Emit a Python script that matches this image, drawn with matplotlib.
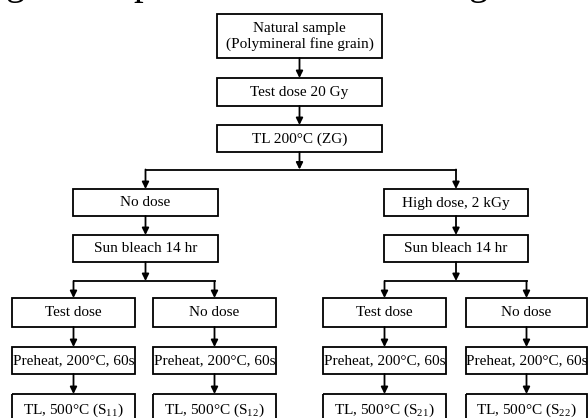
import matplotlib.pyplot as plt
from matplotlib.patches import Rectangle

plt.rcParams['font.family'] = ['Liberation Serif', 'DejaVu Serif']
plt.rcParams['mathtext.fontset'] = 'custom'
plt.rcParams['mathtext.rm'] = 'Liberation Serif'

# box texts of the flow chart
top_labels = ['Natural sample\n(Polymineral fine grain)', 'Test dose 20 Gy', 'TL 200°C (ZG)']
branch_labels = ['No dose', 'High dose, 2 kGy']
bleach_label = 'Sun bleach 14 hr'
leaf_labels = ['Test dose', 'No dose', 'Test dose', 'No dose']
preheat_label = 'Preheat, 200°C, 60s'
tl_labels = [r'TL, 500°C (S$_{11}$)', r'TL, 500°C (S$_{12}$)',
             r'TL, 500°C (S$_{21}$)', r'TL, 500°C (S$_{22}$)']

# layout in pixel coordinates (x0, x1) and (y0, y1)
top_x = (217, 382)
top_y = [(14, 58), (78, 106), (125, 152)]
branch_x = [(73, 218), (384, 528)]
branch_y = (189, 216)
bleach_y = (235, 262)
split_y = 281
leaf_x = [(12, 135), (153, 276), (323, 446), (466, 587)]
leaf_y = (298, 327)
pre_y = (347, 374)
tl_y = (394, 425)
main_split_y = 169.5

fig = plt.figure(figsize=(5.88, 4.18), dpi=100)
ax = fig.add_axes([0, 0, 1, 1])
ax.set_xlim(0, 588)
ax.set_ylim(418, 0)
ax.axis('off')

lw = 1.3
fs = 11


def box(x, y, text):
    ax.add_patch(Rectangle((x[0], y[0]), x[1] - x[0], y[1] - y[0],
                           fill=False, ec='black', lw=lw))
    ax.text((x[0] + x[1]) / 2, (y[0] + y[1]) / 2 + 0.5, text, ha='center', va='center',
            fontsize=fs, linespacing=1.15)


def arrow(x, y0, y1):
    ax.annotate('', xy=(x, y1), xytext=(x, y0),
                arrowprops=dict(arrowstyle='-|>', mutation_scale=10, lw=lw,
                                color='black', shrinkA=0, shrinkB=0))


def cx(x):
    return (x[0] + x[1]) / 2


# caption line above the chart, cut off by the top edge (only descenders show)
for gx, ch in [(15, 'g'), (143, 'p'), (478, 'g')]:
    ax.text(gx, -6, ch, ha='center', va='baseline', fontsize=28)

# top column
for i, lab in enumerate(top_labels):
    box(top_x, top_y[i], lab)
    if i > 0:
        arrow(cx(top_x), top_y[i - 1][1], top_y[i][0])

mid = cx(top_x)
arrow(mid, top_y[-1][1], main_split_y)
ax.plot([cx(branch_x[0]), cx(branch_x[1])], [main_split_y, main_split_y], color='black', lw=lw)

for b in range(2):
    bx = branch_x[b]
    c = cx(bx)
    arrow(c, main_split_y, branch_y[0])
    box(bx, branch_y, branch_labels[b])
    arrow(c, branch_y[1], bleach_y[0])
    box(bx, bleach_y, bleach_label)
    arrow(c, bleach_y[1], split_y)
    lx = [cx(leaf_x[2 * b]), cx(leaf_x[2 * b + 1])]
    ax.plot(lx, [split_y, split_y], color='black', lw=lw)
    for k in range(2):
        j = 2 * b + k
        arrow(lx[k], split_y, leaf_y[0])
        box(leaf_x[j], leaf_y, leaf_labels[j])
        arrow(lx[k], leaf_y[1], pre_y[0])
        box(leaf_x[j], pre_y, preheat_label)
        arrow(lx[k], pre_y[1], tl_y[0])
        box(leaf_x[j], tl_y, tl_labels[j])

fig.savefig('out.png', dpi=100, facecolor='white')
